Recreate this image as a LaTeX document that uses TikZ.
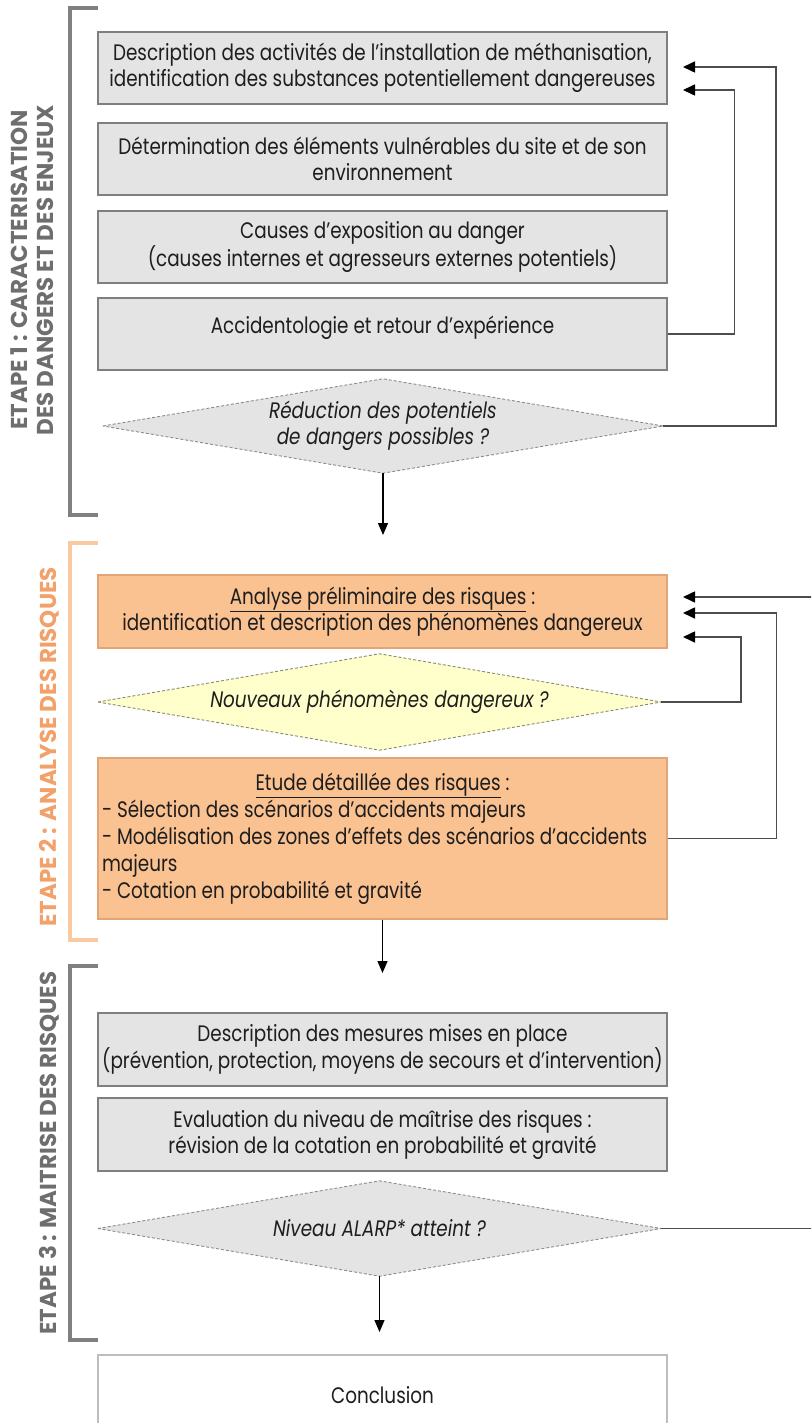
\documentclass[tikz,border=0pt]{standalone}
\usepackage{fontspec}
\setmainfont{Poppins}[FakeStretch=0.82]
\newfontfamily\lblfont{Poppins}
\usetikzlibrary{arrows.meta,calc,backgrounds}
\definecolor{boxgray}{HTML}{E4E4E4}
\definecolor{boxborder}{HTML}{7F7F7F}
\definecolor{orfill}{HTML}{FAC191}
\definecolor{orborder}{HTML}{E3A477}
\definecolor{yelfill}{HTML}{FFFFCC}
\definecolor{diaborder}{HTML}{8C8C8C}
\definecolor{fbgray}{HTML}{4D4D4D}
\definecolor{brkgray}{HTML}{808080}
\definecolor{brkorange}{HTML}{F9C9A2}
\definecolor{lblgray}{HTML}{6E6E6E}
\definecolor{lblorange}{HTML}{F2A16B}
\definecolor{txt}{HTML}{1E1E1E}
\definecolor{concborder}{HTML}{BDBDBD}
\begin{document}
\begin{tikzpicture}[x=1pt,y=-1pt,
  bodyfont/.style={font=\fontsize{22.4}{26}\selectfont},
  box/.style={draw=boxborder, fill=boxgray, line width=1.2pt, minimum width=569pt,
    minimum height=72pt, inner sep=0pt, align=center, text=txt, bodyfont},
  obox/.style={box, draw=orborder, fill=orfill},
  dianode/.style={inner sep=0pt, align=center, text=txt, font=\fontsize{22.4}{26}\selectfont\itshape},
  dia/.style={draw=diaborder, dash pattern=on 3pt off 2pt, line width=0.9pt, fill=boxgray},
  txtnode/.style={inner sep=0pt, align=center, text=txt, bodyfont},
  arr/.style={-{Triangle[length=12pt,width=10pt]}, line width=1.3pt, draw=black},
  fb/.style={-{Triangle[length=12pt,width=11pt,color=black]}, line width=1.6pt, draw=fbgray},
  brk/.style={line width=3.6pt, draw=brkgray},
  lbl/.style={rotate=90, inner sep=0pt, align=center, text=lblgray,
    font=\lblfont\bfseries\fontsize{23}{25.5}\selectfont}
]
\useasboundingbox (0,0) rectangle (811,1423);
\clip (0,0) rectangle (811,1423);

% ---------- Brackets ----------
\draw[brk] (98,8) -- (70,8) -- (70,515) -- (98,515);
\draw[brk, draw=brkorange] (98,543) -- (70,543) -- (70,940) -- (98,940);
\draw[brk] (98,966) -- (70,966) -- (70,1340) -- (98,1340);

% ---------- Stage labels ----------
\node[lbl] (lab1) at (32,270) {ETAPE 1 : CARACTERISATION\\DES DANGERS ET DES ENJEUX};
\node[lbl, text=lblorange] (lab2) at (49,747) {ETAPE 2 : ANALYSE DES RISQUES};
\node[lbl] (lab3) at (49,1153) {ETAPE 3 : MAITRISE DES RISQUES};

% ---------- Stage 1 ----------
\node[box] (b1) at (382.5,68) {Description des activités de l’installation de méthanisation,\\identification des substances potentiellement dangereuses};
\node[box] (b2) at (382.5,159) {Détermination des éléments vulnérables du site et de son\\environnement};
\node[box] (b3) at (382.5,247) {Causes d’exposition au danger\\(causes internes et agresseurs externes potentiels)};
\node[box] (b4) at (382.5,334) {};
\node[txtnode] (b4t) at (382.5,328) {Accidentologie et retour d’expérience};

\node[dianode, minimum width=560pt, minimum height=94pt] (d1) at (383,426) {Réduction des potentiels\\de dangers possibles ?};

% ---------- Stage 2 ----------
\node[obox, minimum height=73pt] (apr) at (382.5,611.5) {\underline{Analyse préliminaire des risques} :\\identification et description des phénomènes dangereux};
\node[dianode, minimum width=563pt, minimum height=96pt] (d2) at (379.5,702) {Nouveaux phénomènes dangereux ?};
\node[obox, minimum height=161pt, text width=561pt, inner xsep=4pt, align=none,
  font=\fontsize{22.4}{27}\selectfont] (edr) at (382.5,838.5)
  {\centering\underline{Etude détaillée des risques} :\par
   \raggedright - Sélection des scénarios d’accidents majeurs\\
   - Modélisation des zones d’effets des scénarios d’accidents\\
   majeurs\\
   - Cotation en probabilité et gravité\par};

% ---------- Stage 3 ----------
\node[box, minimum height=73pt] (b5) at (382.5,1049.5) {Description des mesures mises en place\\(prévention, protection, moyens de secours et d’intervention)};
\node[box, minimum height=73pt] (b6) at (382.5,1134.5) {Evaluation du niveau de maîtrise des risques :\\révision de la cotation en probabilité et gravité};
\node[dianode, minimum width=563pt, minimum height=95pt] (d3) at (379.5,1228.5) {Niveau ALARP* atteint ?};
\node[box, fill=white, draw=concborder, minimum height=80pt] (conc) at (382.5,1395) {Conclusion};

% ---------- Diamond outlines ----------
\begin{pgfonlayer}{background}
\draw[dia] (d1.west) -- (d1.north) -- (d1.east) -- (d1.south) -- cycle;
\draw[dia, fill=yelfill, draw=diaborder!80!olive] (d2.west) -- (d2.north) -- (d2.east) -- (d2.south) -- cycle;
\draw[dia] (d3.west) -- (d3.north) -- (d3.east) -- (d3.south) -- cycle;
\end{pgfonlayer}

% ---------- Free ends ----------
\coordinate (e1) at (383,535);
\coordinate (e2) at (382.5,973);
\coordinate (e3) at (379.5,1332);
\coordinate (in1a) at (683,67);
\coordinate (in1b) at (683,90);
\coordinate (in2a) at (683,597);
\coordinate (in2b) at (683,613);
\coordinate (in2c) at (683,637);

% ---------- Main flow ----------
\draw[arr] (d1.south) -- (e1);
\draw[arr] (edr.south) -- (e2);
\draw[arr] (d3.south) -- (e3);

% ---------- Feedback loops ----------
\draw[fb] (b4.east) -- ++(67,0) |- (in1b);
\draw[fb] (d1.east) -- ++(113,0) |- (in1a);
\draw[fb] (d2.east) -- ++(80,0) |- (in2c);
\draw[fb] (edr.east) -- ++(109,0) |- (in2b);
\draw[fb] (d3.east) -- ++(190,0) |- (in2a);
\end{tikzpicture}
\end{document}
